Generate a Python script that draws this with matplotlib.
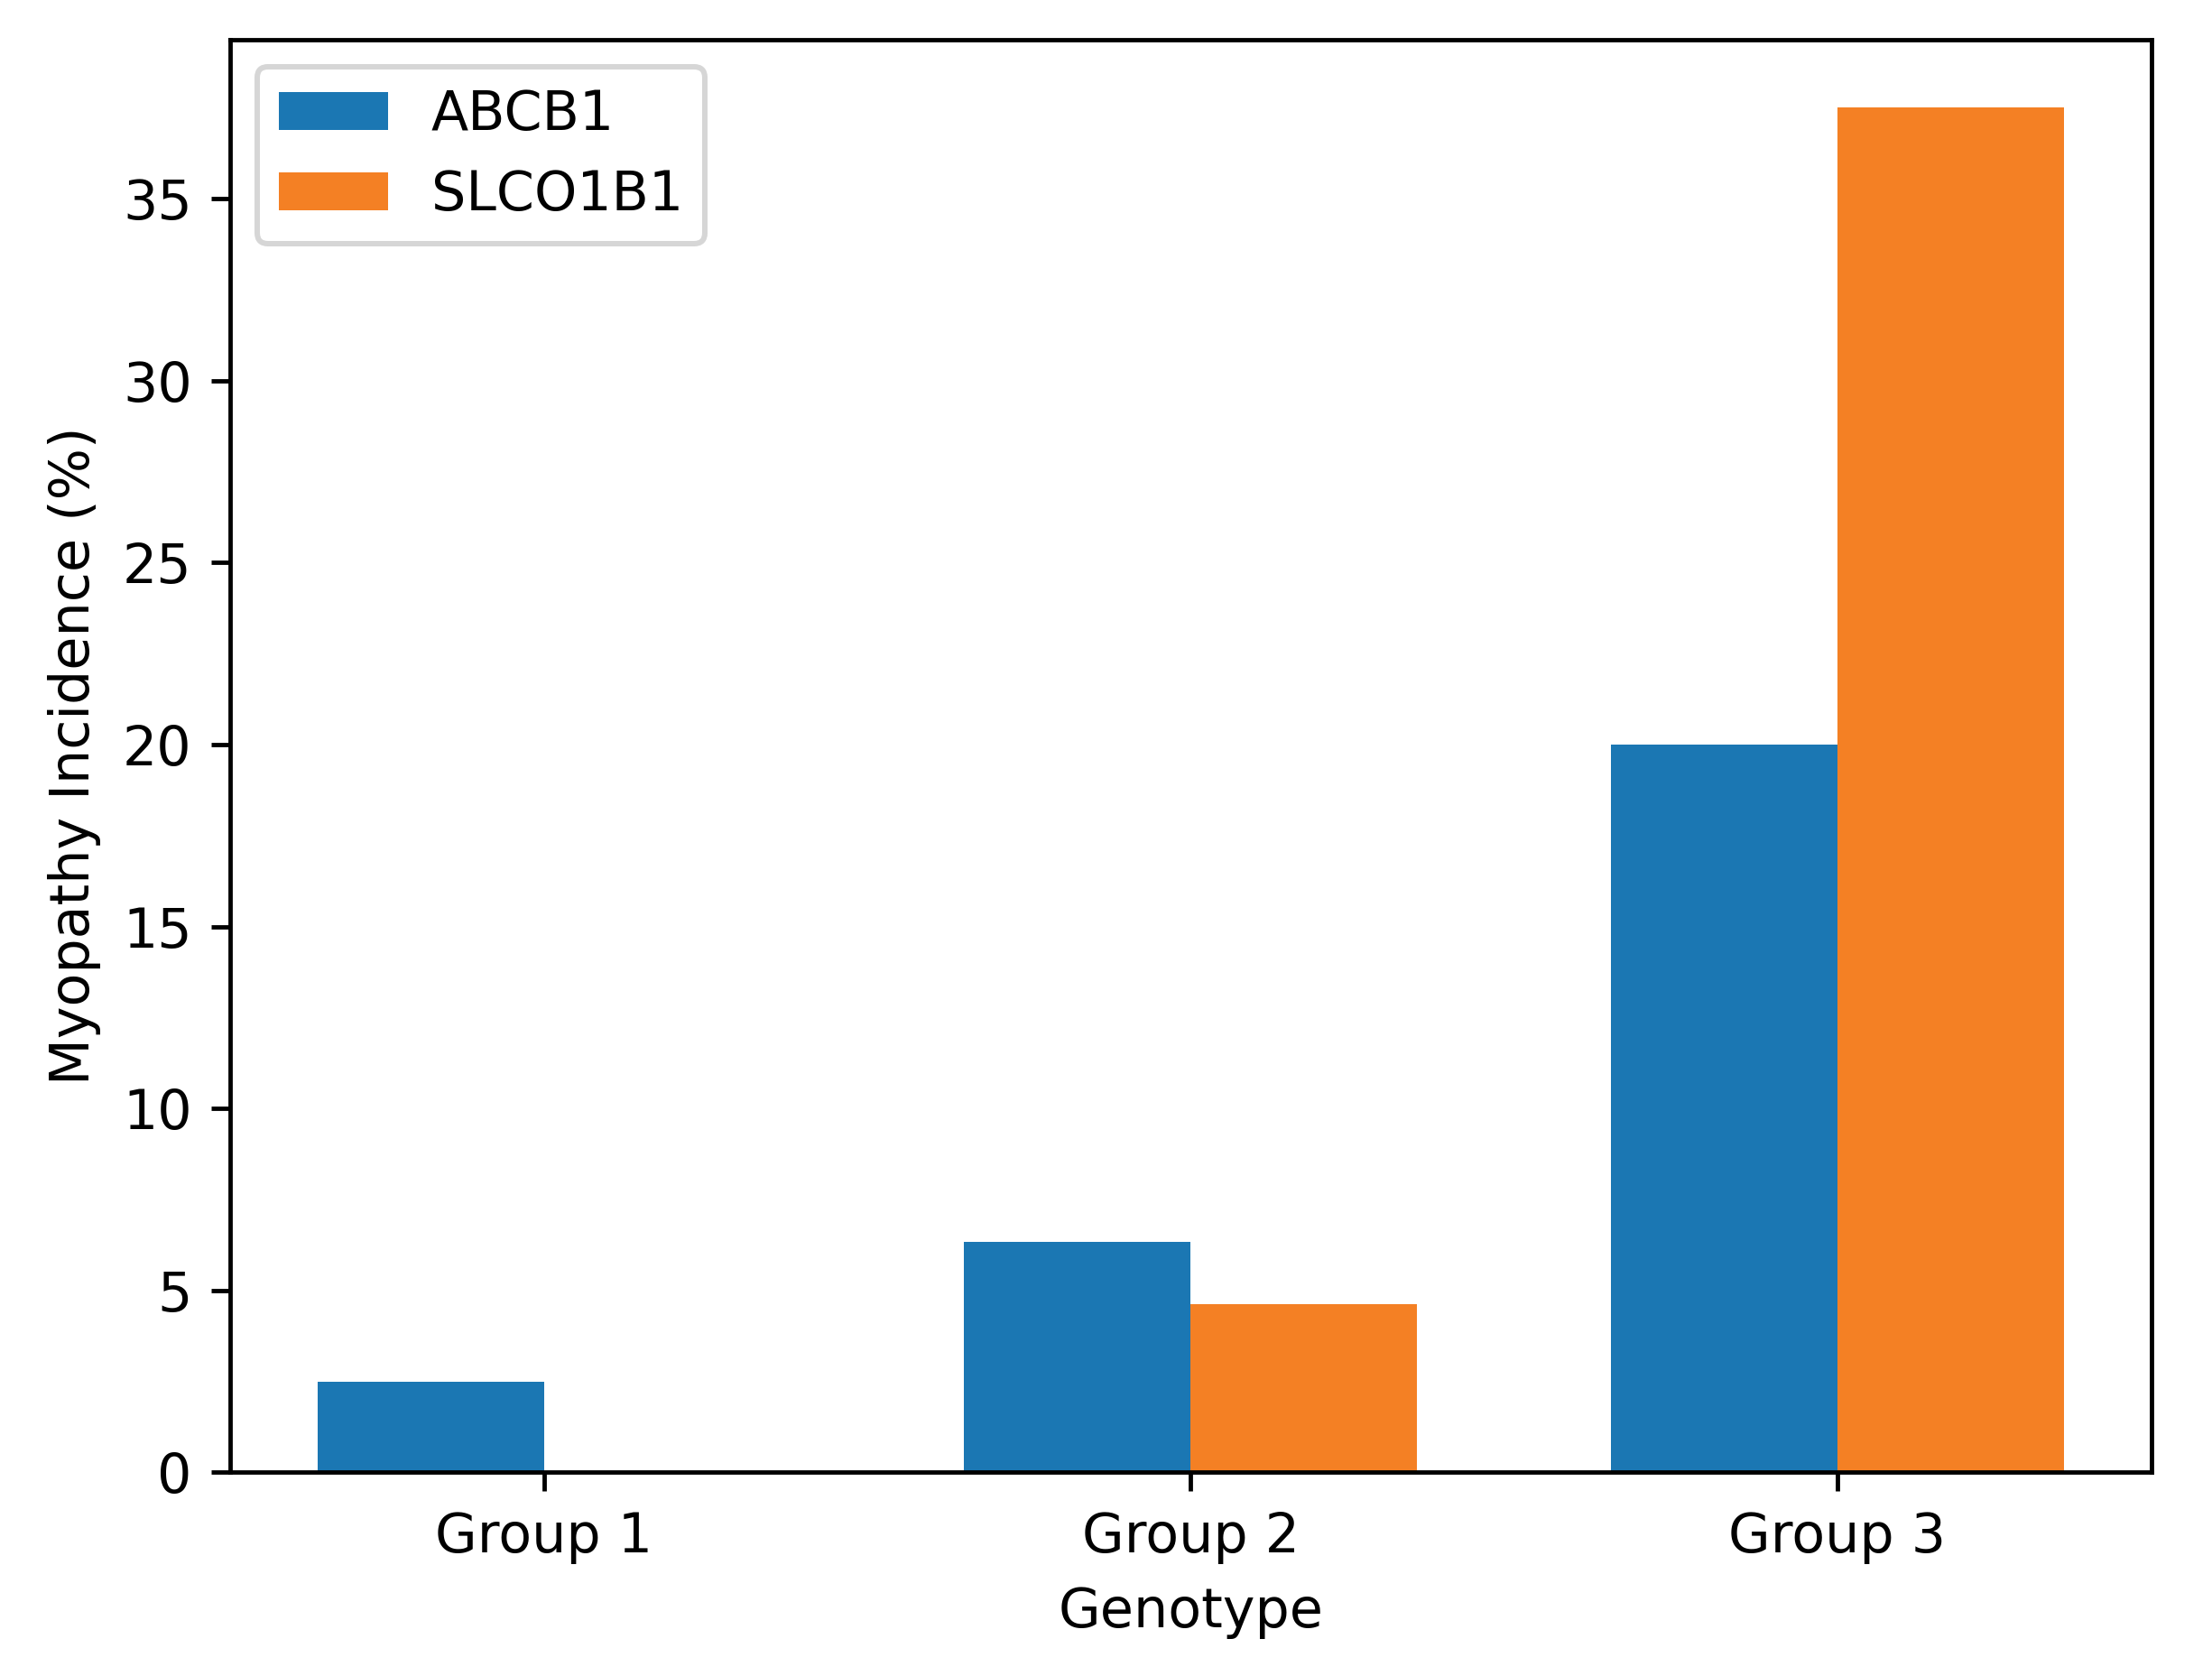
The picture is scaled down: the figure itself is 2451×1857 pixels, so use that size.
import numpy as np
import matplotlib
matplotlib.use('Agg')
import matplotlib.pyplot as plt

groups = ['Group 1', 'Group 2', 'Group 3']
abcb1 = [2.5, 6.33, 20.0]
slco1b1 = [0.0, 4.62, 37.5]

width = 0.35
x = np.arange(len(groups))

fig = plt.figure(figsize=(2451/434, 1857/434), dpi=434)
ax = fig.add_axes([0.104, 0.1215, 0.8685, 0.855])

ax.bar(x - width/2, abcb1, width, label='ABCB1', color='#1b77b3')
ax.bar(x + width/2, slco1b1, width, label='SLCO1B1', color='#f48024')

ax.set_xlabel('Genotype')
ax.set_ylabel('Myopathy Incidence (%)')
ax.set_xticks(x)
ax.set_xticklabels(groups)
ax.legend(loc='upper left')

fig.savefig('out.png', dpi=434)
